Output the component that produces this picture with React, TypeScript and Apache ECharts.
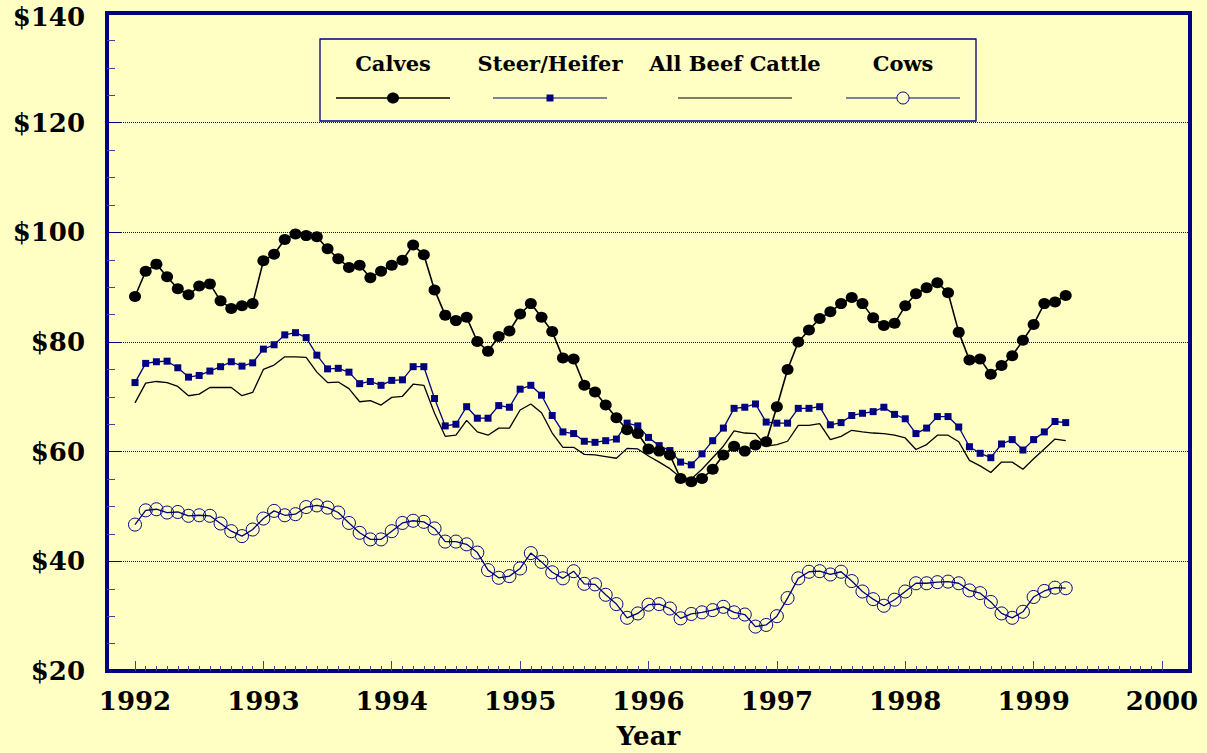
import React, { useEffect, useRef } from "react";
import * as echarts from "echarts";

// Monthly cattle prices, Jan 1992 .. Apr 1999 ($/cwt)
const startYear = 1992;
const yearLabels = [1992, 1993, 1994, 1995, 1996, 1997, 1998, 1999, 2000];

const calves = [
  88.3, 92.9, 94.2, 91.9, 89.7, 88.6, 90.2, 90.6, 87.5, 86.1, 86.6, 87.0,
  94.8, 96.0, 98.7, 99.7, 99.4, 99.2, 97.0, 95.2, 93.6, 94.0, 91.7, 92.9,
  94.0, 94.9, 97.7, 95.9, 89.5, 84.9, 83.9, 84.5, 80.1, 78.3, 81.0, 82.0,
  85.1, 87.0, 84.5, 81.9, 77.1, 76.9, 72.1, 70.9, 68.5, 66.2, 64.0, 63.3,
  60.5, 60.1, 59.4, 55.1, 54.5, 55.1, 56.8, 59.4, 61.0, 60.1, 61.2, 61.8,
  68.2, 75.0, 80.0, 82.2, 84.3, 85.5, 87.0, 88.1, 87.0, 84.4, 83.0, 83.4,
  86.6, 88.8, 89.9, 90.8, 89.0, 81.8, 76.7, 76.9, 74.1, 75.7, 77.5, 80.3,
  83.2, 87.0, 87.3, 88.5,
];

const steerHeifer = [
  72.6, 76.1, 76.4, 76.5, 75.3, 73.6, 73.9, 74.7, 75.5, 76.4, 75.6, 76.2,
  78.7, 79.5, 81.3, 81.7, 80.8, 77.6, 75.1, 75.2, 74.5, 72.4, 72.8, 72.1,
  73.0, 73.1, 75.5, 75.5, 69.7, 64.7, 65.0, 68.2, 66.1, 66.1, 68.4, 68.1,
  71.4, 72.1, 70.3, 66.6, 63.6, 63.3, 61.9, 61.7, 62.0, 62.3, 65.2, 64.7,
  62.6, 61.1, 60.2, 58.1, 57.6, 59.6, 62.0, 64.3, 67.9, 68.1, 68.7, 65.4,
  65.2, 65.2, 67.9, 67.9, 68.2, 64.9, 65.3, 66.6, 67.0, 67.3, 68.1, 66.8,
  66.0, 63.3, 64.3, 66.4, 66.4, 64.5, 60.9, 59.7, 58.9, 61.4, 62.2, 60.3,
  62.2, 63.6, 65.5, 65.3,
];

const allBeef = [
  68.9, 72.5, 72.8, 72.6, 71.9, 70.2, 70.5, 71.7, 71.7, 71.7, 70.2, 70.8,
  75.0, 75.8, 77.3, 77.3, 77.2, 74.5, 72.6, 72.7, 71.5, 69.1, 69.3, 68.5,
  69.9, 70.1, 72.3, 72.1, 67.0, 62.8, 63.0, 65.7, 63.6, 63.0, 64.3, 64.3,
  67.6, 68.7, 67.1, 63.4, 60.8, 60.8, 59.5, 59.4, 59.1, 58.8, 60.6, 60.5,
  59.2, 58.1, 56.9, 55.3, 55.0, 56.8, 58.9, 61.0, 63.8, 63.4, 63.3, 61.0,
  61.3, 61.9, 64.8, 64.8, 65.1, 62.2, 62.8, 63.9, 63.6, 63.4, 63.3, 63.0,
  62.5, 60.4, 61.3, 63.0, 63.0, 61.8, 58.4, 57.4, 56.2, 58.1, 58.1, 56.8,
  58.7, 60.5, 62.3, 62.0,
];

const cows = [
  46.7, 49.3, 49.5, 48.9, 49.0, 48.3, 48.4, 48.3, 46.9, 45.5, 44.6, 45.8,
  47.8, 49.2, 48.4, 48.6, 49.9, 50.2, 49.8, 48.9, 47.0, 45.2, 44.0, 44.0,
  45.5, 47.0, 47.4, 47.2, 46.0, 43.6, 43.6, 43.1, 41.6, 38.4, 37.0, 37.3,
  38.7, 41.5, 39.9, 38.0, 36.9, 38.2, 35.9, 35.8, 33.9, 32.2, 29.7, 30.5,
  32.1, 32.2, 31.4, 29.6, 30.4, 30.7, 31.1, 31.7, 30.7, 30.3, 28.1, 28.4,
  30.0, 33.3, 36.9, 38.1, 38.2, 37.6, 38.1, 36.4, 34.5, 33.1, 31.9, 33.0,
  34.5, 36.0, 36.0, 36.2, 36.3, 36.0, 34.7, 34.2, 32.6, 30.5, 29.7, 30.8,
  33.5, 34.6, 35.2, 35.1,
];

const seriesNames = ["Calves", "Steer/Heifer", "All Beef Cattle", "Cows"];

const BG = "#FFFFC4";
const NAVY = "#000080";
const TICK = "#40449A";
const FONT = "'DejaVu Serif', serif";

const toXY = (arr: number[]) => arr.map((v, i) => [i, v]);

export default function App() {
  const ref = useRef<HTMLDivElement>(null);

  useEffect(() => {
    if (!ref.current) return;
    document.body.style.background = BG;
    const chart = echarts.init(ref.current, null, { renderer: "svg" });

    const yearTicks = yearLabels.map((y) => (y - startYear) * 12);
    const monthTicks: number[] = [];
    for (let m = 0; m <= (yearLabels[yearLabels.length - 1] - startYear) * 12; m++) {
      if (m % 12 !== 0) monthTicks.push(m);
    }
    const xMin = -2.617;
    const xMax = 98.617;

    const legendFont = `bold 21px ${FONT}`;
    const legendItems = [
      { name: seriesNames[0], cx: 393 },
      { name: seriesNames[1], cx: 550 },
      { name: seriesNames[2], cx: 735 },
      { name: seriesNames[3], cx: 903 },
    ];
    const graphic: any[] = [
      {
        type: "rect",
        shape: { x: 320, y: 39, width: 656, height: 82 },
        style: { fill: BG, stroke: NAVY, lineWidth: 1.3 },
        z: 10,
      },
    ];
    legendItems.forEach((it, idx) => {
      graphic.push({
        type: "text",
        x: it.cx,
        y: 63,
        z: 11,
        style: {
          text: it.name,
          font: legendFont,
          fill: "#000",
          textAlign: "center",
          textVerticalAlign: "middle",
        },
      });
      const lineColor = idx === 0 || idx === 2 ? "#000" : NAVY;
      graphic.push({
        type: "line",
        z: 11,
        shape: { x1: it.cx - 57, y1: 98, x2: it.cx + 57, y2: 98 },
        style: { stroke: lineColor, lineWidth: idx === 0 ? 1.5 : 1.2 },
      });
      if (idx === 0) {
        graphic.push({
          type: "ellipse",
          z: 12,
          shape: { cx: it.cx, cy: 98, rx: 6, ry: 5.5 },
          style: { fill: "#000" },
        });
      } else if (idx === 1) {
        graphic.push({
          type: "rect",
          z: 12,
          shape: { x: it.cx - 3.5, y: 94.5, width: 7, height: 7 },
          style: { fill: NAVY },
        });
      } else if (idx === 3) {
        graphic.push({
          type: "circle",
          z: 12,
          shape: { cx: it.cx, cy: 98, r: 6 },
          style: { fill: BG, stroke: NAVY, lineWidth: 1 },
        });
      }
    });

    const labelFont = {
      fontFamily: FONT,
      fontWeight: "bold",
      fontSize: 26,
      color: "#000",
    };

    chart.setOption({
      animation: false,
      backgroundColor: BG,
      grid: {
        left: 107,
        right: 17,
        top: 13,
        bottom: 82,
        show: true,
        borderColor: NAVY,
        borderWidth: 4,
        backgroundColor: "transparent",
        containLabel: false,
        outerBoundsMode: "none",
      },
      xAxis: [
        {
          type: "value",
          position: "bottom",
          min: xMin,
          max: xMax,
          name: "Year",
          nameLocation: "middle",
          nameGap: 52,
          nameTextStyle: { ...labelFont, lineHeight: 26 },
          axisLine: { show: false, onZero: false },
          splitLine: { show: false },
          axisTick: {
            show: true,
            inside: true,
            length: 10,
            customValues: yearTicks,
            lineStyle: { color: TICK, width: 1 },
          },
          axisLabel: {
            show: true,
            customValues: yearTicks,
            margin: 17,
            formatter: (v: number) => String(startYear + Math.round(v / 12)),
            ...labelFont,
          },
        },
        {
          type: "value",
          position: "bottom",
          min: xMin,
          max: xMax,
          axisLine: { show: false, onZero: false },
          splitLine: { show: false },
          axisLabel: { show: false },
          axisTick: {
            show: true,
            inside: true,
            length: 5,
            customValues: monthTicks,
            lineStyle: { color: TICK, width: 1 },
          },
        },
      ],
      yAxis: {
        type: "value",
        position: "left",
        min: 20,
        max: 140,
        interval: 20,
        axisLine: { show: false, onZero: false },
        axisTick: {
          show: true,
          inside: true,
          length: 15,
          lineStyle: { color: NAVY, width: 1 },
        },
        minorTick: {
          show: true,
          splitNumber: 4,
          length: 8,
          lineStyle: { color: TICK, width: 1 },
        },
        splitLine: {
          show: true,
          lineStyle: { color: "#0000B0", type: "dotted", width: 1 },
        },
        axisLabel: {
          margin: 22,
          formatter: (v: number) => (v === 140 ? "{t|$" + v + "}" : "$" + v),
          ...labelFont,
          lineHeight: 22,
          rich: {
            t: { ...labelFont, lineHeight: 22, padding: [7, 0, 0, 0] },
          },
        },
      },
      series: [
        {
          name: seriesNames[3],
          type: "line",
          silent: true,
          data: toXY(cows),
          symbol: "circle",
          symbolSize: 13,
          showAllSymbol: true,
          itemStyle: { color: "rgba(0,0,0,0)", borderColor: NAVY, borderWidth: 1 },
          lineStyle: { color: NAVY, width: 1.3 },
          z: 2,
        },
        {
          name: seriesNames[2],
          type: "line",
          silent: true,
          data: toXY(allBeef),
          symbol: "none",
          lineStyle: { color: "#000", width: 1.3 },
          z: 3,
        },
        {
          name: seriesNames[1],
          type: "line",
          silent: true,
          data: toXY(steerHeifer),
          symbol: "rect",
          symbolSize: 7,
          showAllSymbol: true,
          itemStyle: { color: NAVY },
          lineStyle: { color: NAVY, width: 1.3 },
          z: 4,
        },
        {
          name: seriesNames[0],
          type: "line",
          silent: true,
          data: toXY(calves),
          symbol: "circle",
          symbolSize: [12, 11],
          showAllSymbol: true,
          itemStyle: { color: "#000" },
          lineStyle: { color: "#000", width: 1.6 },
          z: 5,
        },
      ],
      graphic,
    });

    return () => {
      chart.dispose();
    };
  }, []);

  return (
    <div
      ref={ref}
      style={{
        position: "fixed",
        left: 0,
        top: 0,
        width: 1207,
        height: 753,
        background: BG,
      }}
    />
  );
}
